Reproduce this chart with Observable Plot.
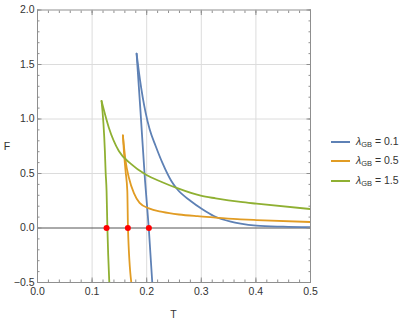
<!DOCTYPE html>
<html><head><meta charset="utf-8">
<script src="https://cdn.jsdelivr.net/npm/d3@7"></script>
<script src="https://cdn.jsdelivr.net/npm/@observablehq/plot@0.6"></script>
<style>
body{margin:0;background:#fff;}
#wrap{position:relative;width:407px;height:323px;font-family:"Liberation Sans",Arial,sans-serif;}
#legend{position:absolute;left:331px;top:132px;font-size:10.5px;color:#333;}
.row{display:flex;align-items:center;height:19.5px;white-space:nowrap;}
.row svg{margin-right:6px;}
.row sub{font-size:7.5px;vertical-align:-2px;}
.lab{position:absolute;font-size:10.5px;line-height:1;color:#333;transform:translate(-50%,-50%);}
</style></head><body><div id="wrap"><div id="legend"></div>
<div class="lab" style="left:173.5px;top:314px">T</div>
<div class="lab" style="left:7px;top:146px">F</div>
</div>
<script>
// series
const lambdas = [0.1, 0.5, 1.5];
const colors = ["#5E81B5", "#E19C24", "#8FB032"];
// [T, F]; each curve has a steep branch and a decaying branch
const blueSteep = [[0.1815,1.60],[0.1888,1.058],[0.197,0.431],[0.2038,0],[0.2102,-0.5]];
const blueTail  = [[0.1815,1.60],[0.1876,1.364],[0.198,1.058],[0.2054,0.905],[0.2164,0.752],[0.2286,0.599],[0.2451,0.431],[0.256,0.355],[0.2805,0.248],[0.302,0.172],[0.323,0.11],[0.354,0.058],[0.372,0.04],[0.401,0.022],[0.45,0.012],[0.5,0.007]];
const orangeSteep = [[0.1564,0.85],[0.1582,0.706],[0.1613,0.523],[0.1645,0.339],[0.1657,0],[0.1718,-0.5]];
const orangeTail  = [[0.1564,0.85],[0.1613,0.615],[0.1674,0.461],[0.1766,0.32],[0.187,0.23],[0.2041,0.18],[0.2286,0.148],[0.259,0.124],[0.293,0.108],[0.326,0.096],[0.372,0.08],[0.401,0.073],[0.5,0.055]];
const greenSteep = [[0.1173,1.165],[0.1234,0.706],[0.1247,0.523],[0.1265,0.339],[0.128,0],[0.1315,-0.5]];
const greenTail  = [[0.1173,1.165],[0.1307,0.92],[0.149,0.706],[0.1706,0.59],[0.198,0.49],[0.2286,0.42],[0.256,0.365],[0.299,0.296],[0.3264,0.272],[0.372,0.239],[0.401,0.223],[0.5,0.174]];
// zero crossings (red dots)
const zeroT = [0.1265, 0.1655, 0.204];
const zeroF = [0, 0, 0];
// ticks
const xTicks = [0, 0.1, 0.2, 0.3, 0.4, 0.5];
const yTicks = [-0.5, 0, 0.5, 1.0, 1.5, 2.0];
const xGrid = [0.1, 0.2, 0.3, 0.4];
const yGrid = [0.5, 1.0, 1.5];
const xMinor = d3.ticks(0, 0.5, 25);
const yMinor = d3.ticks(-0.5, 2, 25);

const branches = [
  [0, "s", blueSteep], [0, "t", blueTail],
  [1, "s", orangeSteep], [1, "t", orangeTail],
  [2, "s", greenSteep], [2, "t", greenTail]
];
const rows = [];
for (const [i, b, pts] of branches)
  for (const [T, F] of pts) rows.push({T, F, lambda: lambdas[i], key: i + b});
const dots = zeroT.map((T, i) => ({T, F: zeroF[i]}));

const fmt = d3.format(".1f");
const frameGray = "#8f8f8f";
const inward = (axis, data, anchor, size) => axis(data, {anchor, tickSize: -size, tickFormat: () => "", label: null, stroke: frameGray});

const chart = Plot.plot({
  width: 407, height: 323,
  marginLeft: 37, marginRight: 97, marginTop: 9.5, marginBottom: 41,
  style: {fontFamily: "'Liberation Sans', Arial, sans-serif", fontSize: "10.5px", color: "#333", background: "white"},
  x: {domain: [0, 0.5]},
  y: {domain: [-0.5, 2]},
  color: {domain: lambdas, range: colors},
  marks: [
    Plot.gridX(xGrid, {stroke: "#dcdcdc", strokeOpacity: 1}),
    Plot.gridY(yGrid, {stroke: "#dcdcdc", strokeOpacity: 1}),
    Plot.ruleY([0], {stroke: "#555", strokeWidth: 1}),
    Plot.line(rows, {x: "T", y: "F", z: "key", stroke: "lambda", strokeWidth: 1.8, curve: "monotone-x", clip: true}),
    Plot.dot(dots, {x: "T", y: "F", r: 3, fill: "#ff0000"}),
    Plot.frame({stroke: frameGray}),
    inward(Plot.axisX, xMinor, "bottom", 2.5), inward(Plot.axisX, xTicks, "bottom", 4.5),
    inward(Plot.axisX, xMinor, "top", 2.5), inward(Plot.axisX, xTicks, "top", 4.5),
    inward(Plot.axisY, yMinor, "left", 2.5), inward(Plot.axisY, yTicks, "left", 4.5),
    inward(Plot.axisY, yMinor, "right", 2.5), inward(Plot.axisY, yTicks, "right", 4.5),
    Plot.axisX(xTicks, {anchor: "bottom", tickSize: 0, tickPadding: 5, tickFormat: fmt, label: null}),
    Plot.axisY(yTicks, {anchor: "left", tickSize: 0, tickPadding: 3, tickFormat: fmt, label: null})
  ]
});
document.getElementById("wrap").prepend(chart);

const legend = document.getElementById("legend");
lambdas.forEach((l, i) => {
  const row = document.createElement("div");
  row.className = "row";
  row.innerHTML = `<svg width="19" height="4"><line x1="0" y1="2" x2="19" y2="2" stroke="${colors[i]}" stroke-width="2"/></svg><span><i>λ</i><sub>GB</sub> = ${l}</span>`;
  legend.appendChild(row);
});
</script></body></html>
